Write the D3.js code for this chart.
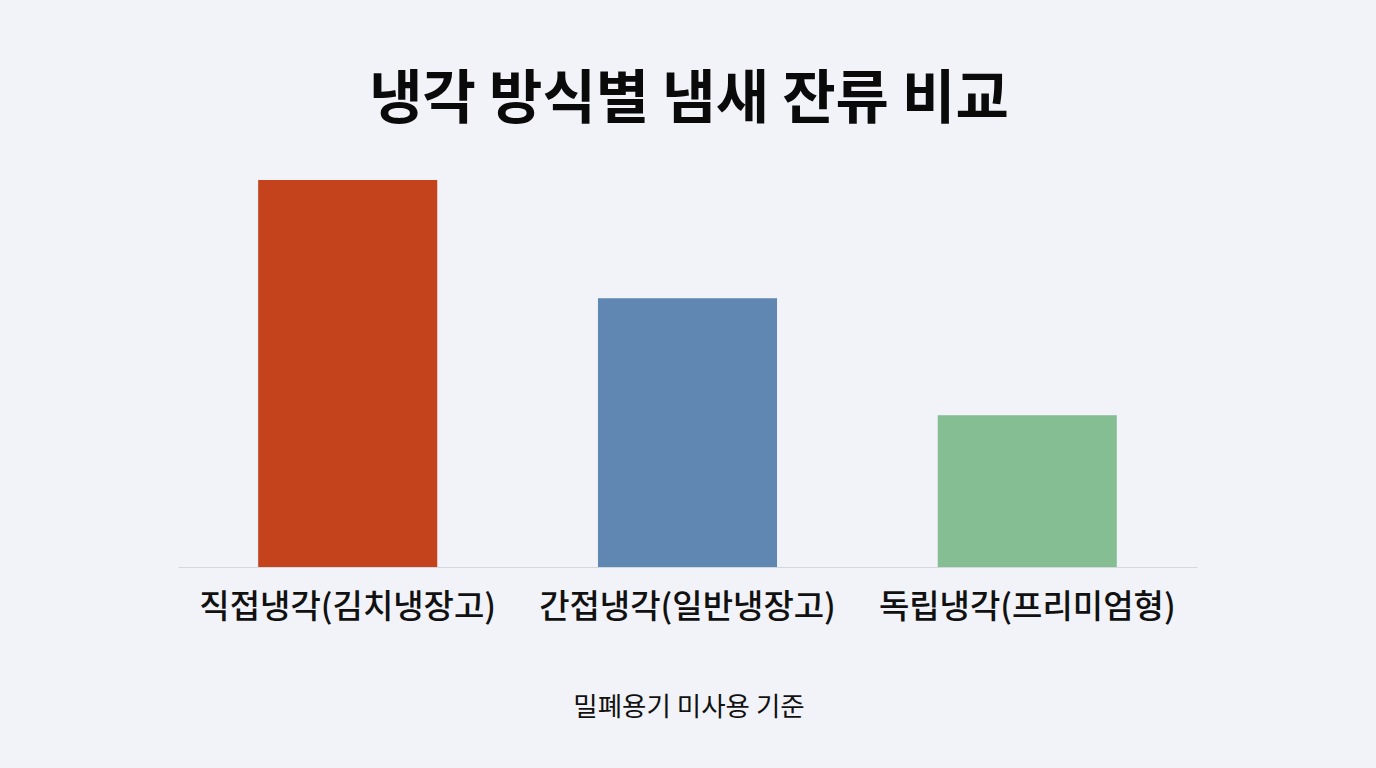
<!DOCTYPE html>
<html>
<head>
<meta charset="utf-8">
<script src="https://cdn.jsdelivr.net/npm/d3@7"></script>
<style>
  html, body { margin: 0; padding: 0; background: #f1f3f8; }
  svg { display: block; font-family: "Noto Sans CJK KR", "Noto Sans", sans-serif; }
</style>
</head>
<body>
<div id="chart"></div>
<script>
'use strict'

// data (no axis shown, relative values)
var categories = ['직접냉각(김치냉장고)', '간접냉각(일반냉장고)', '독립냉각(프리미엄형)'];
var values = [90, 62.5, 35.3];
var colors = ['#c5431c', '#5f87b1', '#86be93'];
var title = '냉각 방식별 냄새 잔류 비교';
var note = '밀폐용기 미사용 기준';

const width = 1376;
const height = 768;
const margin = { top: 137, right: 179, bottom: 201, left: 178 };
const baseY = height - margin.bottom;

var svg = d3.select('#chart').append('svg')
  .attr('width', width)
  .attr('height', height);

svg.append('rect')
  .attr('width', width)
  .attr('height', height)
  .style('fill', '#f1f3f8');

var xScale = d3.scaleBand()
  .domain(categories)
  .range([margin.left, width - margin.right])
  .paddingInner(0.473)
  .paddingOuter(0.236);

var yScale = d3.scaleLinear()
  .domain([0, 100])
  .range([baseY, margin.top]);

// bars
svg.append('g').selectAll('rect')
  .data(values)
  .enter().append('rect')
  .attr('x', (d, i) => xScale(categories[i]))
  .attr('y', d => yScale(d))
  .attr('width', xScale.bandwidth())
  .attr('height', d => baseY - yScale(d))
  .style('fill', (d, i) => colors[i]);

// baseline axis with category labels
var xAxis = d3.axisBottom(xScale).tickSize(0).tickPadding(28);
var xGuide = svg.append('g')
  .attr('transform', 'translate(0,' + baseY + ')')
  .call(xAxis);
xGuide.select('.domain')
  .style('stroke', '#d3d7de')
  .style('stroke-width', 1.2);
xGuide.selectAll('text')
  .style('font-family', '"Noto Sans CJK KR", sans-serif')
  .style('font-size', '33px')
  .style('font-weight', 500)
  .style('fill', '#111');

// title
svg.append('text')
  .attr('x', width / 2 + 1)
  .attr('y', 118)
  .style('text-anchor', 'middle')
  .style('font-size', '58px')
  .style('font-weight', 700)
  .style('fill', '#0a0a0a')
  .text(title);

// note
svg.append('text')
  .attr('x', width / 2 + 1)
  .attr('y', 716)
  .style('text-anchor', 'middle')
  .style('font-size', '26.5px')
  .style('font-weight', 400)
  .style('fill', '#111')
  .text(note);
</script>
</body>
</html>
